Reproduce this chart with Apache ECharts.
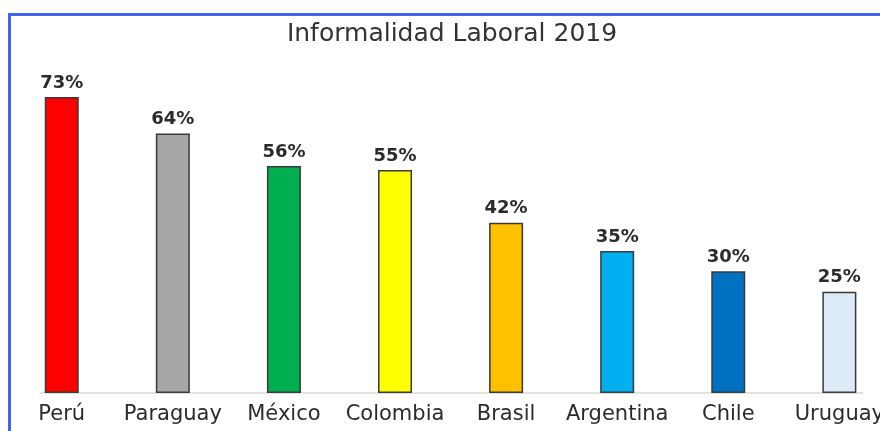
<!DOCTYPE html>
<html>
<head>
<meta charset="utf-8">
<script src="https://cdn.jsdelivr.net/npm/echarts@6/dist/echarts.min.js"></script>
<style>
  html, body { margin: 0; padding: 0; background: #fff; overflow: hidden; }
  #wrap { width: 880px; height: 431px; overflow: hidden; }
  #chart { width: 900px; height: 431px; }
</style>
</head>
<body>
<div id="wrap"><div id="chart"></div></div>
<script>
// datos del gráfico
const categories = ["Perú", "Paraguay", "México", "Colombia", "Brasil", "Argentina", "Chile", "Uruguay"];
const values = [73, 64, 56, 55, 42, 35, 30, 25];
const barColors = ["#ff0000", "#a6a6a6", "#00b050", "#ffff00", "#ffc000", "#00b0f0", "#0070c0", "#ddebf7"];

const chart = echarts.init(document.getElementById("chart"));

const option = {
  backgroundColor: "#ffffff",
  animation: false,
  title: {
    text: "Informalidad Laboral 2019",
    left: 447,
    textAlign: "center",
    top: 17,
    textStyle: {
      fontFamily: "DejaVu Sans",
      fontSize: 25,
      fontWeight: "normal",
      color: "#333333",
    },
  },
  graphic: [
    {
      type: "polyline",
      shape: { points: [[9.5, 440], [9.5, 14.5], [910, 14.5]] },
      style: { stroke: "#3f67ee", lineWidth: 3, fill: null },
      silent: true,
    },
  ],
  grid: [
    // el área de barras sobrepasa el borde derecho (Uruguay queda cortado)
    { left: 6.2, right: 5.1, top: 68.6, bottom: 38 },
    { left: 40, right: 37, top: 68.6, bottom: 38 },
  ],
  xAxis: [
    {
      type: "category",
      gridIndex: 0,
      data: categories,
      axisLine: { show: false },
      axisTick: { show: false },
      axisLabel: {
        margin: 11,
        interval: 0,
        fontFamily: "DejaVu Sans",
        fontSize: 21,
        color: "#2b2b2b",
      },
    },
    {
      type: "value",
      gridIndex: 1,
      min: 0,
      max: 1,
      axisLine: { show: true, lineStyle: { color: "#d9d9d9", width: 1.5 } },
      axisTick: { show: false },
      axisLabel: { show: false },
      splitLine: { show: false },
    },
  ],
  yAxis: [
    { type: "value", gridIndex: 0, min: 0, max: 80, show: false },
    { type: "value", gridIndex: 1, min: 0, max: 80, show: false },
  ],
  series: [
    {
      type: "bar",
      xAxisIndex: 0,
      yAxisIndex: 0,
      barWidth: 34,
      data: values.map((v, i) => ({
        value: v,
        itemStyle: { color: barColors[i] },
      })),
      itemStyle: { borderColor: "#3a3a3a", borderWidth: 1.5 },
      label: {
        show: true,
        position: "top",
        distance: 5,
        formatter: "{c}%",
        fontFamily: "DejaVu Sans",
        fontSize: 18,
        fontWeight: "bold",
        color: "#2b2b2b",
      },
    },
  ],
};

chart.setOption(option);
</script>
</body>
</html>
